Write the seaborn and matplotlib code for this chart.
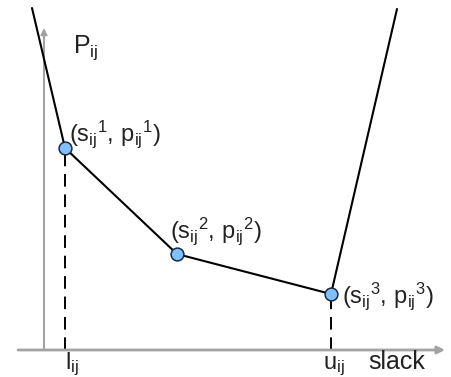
import matplotlib
matplotlib.use("Agg")
import matplotlib.pyplot as plt
import seaborn as sns
import pandas as pd

# Piecewise-linear penalty on the slack variable
slack = [-1.2, 2.1, 13.3, 28.7, 35.3]
penalty = [34.2, 20.2, 9.6, 5.6, 34.1]
# breakpoints (s_ij^k, p_ij^k)
bp_s = [2.1, 13.3, 28.7]
bp_p = [20.2, 9.6, 5.6]
bp_labels = [r"$\mathregular{(s_{ij}{}^{1},\,p_{ij}{}^{1})}$",
             r"$\mathregular{(s_{ij}{}^{2},\,p_{ij}{}^{2})}$",
             r"$\mathregular{(s_{ij}{}^{3},\,p_{ij}{}^{3})}$"]
bounds = [2.1, 28.7]
bound_labels = [r"$\mathregular{l_{ij}}$", r"$\mathregular{u_{ij}}$"]

sns.set_theme(style="white")
plt.rcParams["font.family"] = ["Liberation Sans", "DejaVu Sans"]
plt.rcParams["mathtext.fontset"] = "custom"
plt.rcParams["mathtext.rm"] = "Liberation Sans"
plt.rcParams["mathtext.it"] = "Liberation Sans"
plt.rcParams["mathtext.bf"] = "Liberation Sans:bold"

fig = plt.figure(figsize=(4.51, 3.77), dpi=100)
ax = fig.add_axes([0, 0, 1, 1])
ax.set_xlim(-4.4, 40.7)
ax.set_ylim(-2.7, 35.0)
ax.axis("off")

axis_gray = "#a3a3a3"
text_color = "#222222"
# coordinate axes with arrowheads
ax.annotate("", xy=(40.1, 0), xytext=(-2.6, 0),
            arrowprops=dict(arrowstyle="-|>", color=axis_gray, lw=2,
                            mutation_scale=11, shrinkA=0, shrinkB=0))
ax.annotate("", xy=(0, 32.2), xytext=(0, 0),
            arrowprops=dict(arrowstyle="-|>", color=axis_gray, lw=1.5,
                            mutation_scale=9, shrinkA=0, shrinkB=0))

# dashed drop lines at the bounds
for b, p in zip([bp_s[0], bp_s[2]], [bp_p[0], bp_p[2]]):
    ax.plot([b, b], [0, p], color="black", lw=1.4, ls=(0, (6.5, 4)), zorder=2)

df = pd.DataFrame({"slack": slack, "penalty": penalty})
sns.lineplot(data=df, x="slack", y="penalty", sort=False, color="black",
             lw=1.5, ax=ax, zorder=3)

pts = pd.DataFrame({"s": bp_s, "p": bp_p})
sns.scatterplot(data=pts, x="s", y="p", s=85, color="#80c0ff",
                edgecolor="#1a2a40", linewidth=1.1, ax=ax, zorder=4)

fs = 17
offsets = [(4, 7), (-7, 16), (11, -9)]
for s, p, lab, (dx, dy) in zip(bp_s, bp_p, bp_labels, offsets):
    ax.annotate(lab, xy=(s, p), xytext=(dx, dy), textcoords="offset pixels",
                ha="left", va="baseline", fontsize=fs, color=text_color)

for b, lab, dx in zip(bounds, bound_labels, [0, -8]):
    ax.annotate(lab, xy=(b, 0), xytext=(dx, -19),
                textcoords="offset pixels", ha="left", va="baseline",
                fontsize=fs, color=text_color)

ax.text(32.4, -1.9, "slack", ha="left", va="baseline", fontsize=fs + 1,
        color=text_color)
ax.text(2.9, 29.7, r"$\mathregular{P_{ij}}$", ha="left", va="baseline",
        fontsize=fs + 1, color=text_color)

ax.set_xlabel("")
ax.set_ylabel("")
fig.savefig("out.png", dpi=100)
